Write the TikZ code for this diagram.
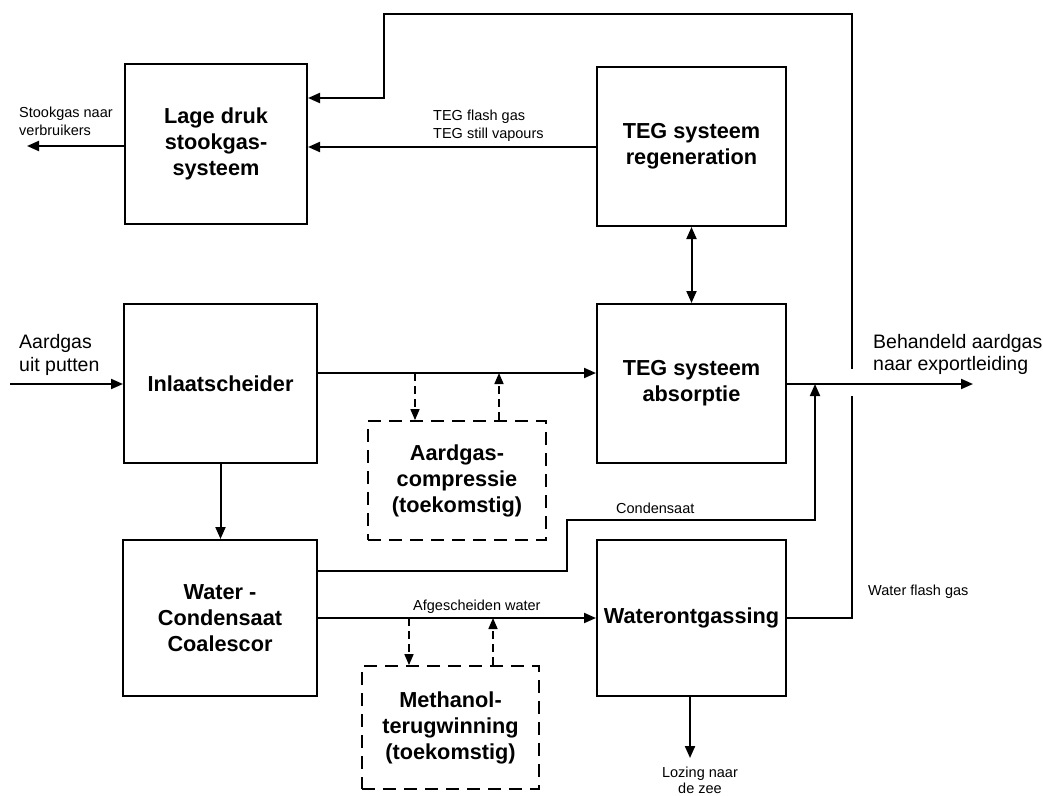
\documentclass[tikz,border=0pt]{standalone}
\usepackage{fontspec}
\setmainfont{Liberation Sans}
\usetikzlibrary{arrows.meta}
\begin{document}
\begin{tikzpicture}[x=1pt,y=-1pt,
  unit/.style={draw,line width=2pt,inner sep=0pt,align=center,
    font=\fontsize{21.7}{26}\selectfont\bfseries},
  future/.style={unit,line width=1.8pt,dash pattern=on 13pt off 8pt},
  arr/.style={line width=2pt,-{Triangle[length=12pt,width=10pt]}},
  dblarr/.style={line width=2pt,{Triangle[length=12pt,width=10pt]}-{Triangle[length=12pt,width=10pt]}},
  darr/.style={line width=1.6pt,dash pattern=on 8pt off 5pt,-{Triangle[length=11pt,width=9pt]}},
  thinpipe/.style={line width=1.1pt},
  small/.style={inner sep=0pt,align=left,font=\fontsize{14.5}{18}\selectfont},
  big/.style={inner sep=0pt,align=left,font=\fontsize{19.5}{22.5}\selectfont}]
\useasboundingbox (0,0) rectangle (1043,795);
\fill[white] (0,0) rectangle (1043,795);

% units
\node[unit,minimum width=182pt,minimum height=160pt] (lage) at (216,144) {Lage druk\\stookgas-\\systeem};
\node[unit,minimum width=189pt,minimum height=159pt] (regen) at (691.5,146.5) {TEG systeem\\regeneration};
\node[unit,minimum width=193pt,minimum height=159pt] (inlaat) at (220.5,383.5) {Inlaatscheider};
\node[unit,minimum width=189pt,minimum height=159pt] (absorp) at (691.5,383.5) {TEG systeem\\absorptie};
\node[future,minimum width=178pt,minimum height=119pt] (comp) at (457,480.5) {Aardgas-\\compressie\\(toekomstig)};
\node[unit,minimum width=194pt,minimum height=156pt] (water) at (220,618) {Water -\\Condensaat\\Coalescor};
\node[unit,minimum width=189pt,minimum height=156pt] (ontg) at (691.5,618) {Waterontgassing};
\node[future,minimum width=177pt,minimum height=123pt] (meth) at (450.5,727.5) {Methanol-\\terugwinning\\(toekomstig)};

% free ends
\coordinate (in) at (10,384);
\coordinate (export) at (973,384);
\coordinate (stook) at (27,146);
\coordinate (lozing) at (690,758);
\coordinate (gapbot) at (852,396);
\coordinate (gaptop) at (852,369);

% labels
\node[small,anchor=west] (lstook) at (19,121) {Stookgas naar\\verbruikers};
\node[small,anchor=west] (lteg) at (433,126) {TEG flash gas\\TEG still vapours};
\node[big,anchor=west] (lin) at (19,355) {Aardgas\\uit putten};
\node[big,anchor=west] (lexp) at (873,354.5) {Behandeld aardgas\\naar exportleiding};
\node[small,anchor=west] (lcond) at (616,508) {Condensaat};
\node[small,anchor=west] (lafg) at (413,607) {Afgescheiden water};
\node[small,anchor=west] (lwfg) at (868,592) {Water flash gas};
\node[inner sep=0pt,align=center,font=\fontsize{14.5}{16}\selectfont] (lloz) at (700,780) {Lozing naar\\de zee};

% connectors
\draw[arr] (in) -- (inlaat.west |- in);
\draw[arr] (inlaat.east |- 0,373) -- (absorp.west |- 0,373);
\draw[darr] (415,373) -- (comp.north -| 415,0);
\draw[darr] (comp.north -| 499,0) -- (499,373);
\draw[arr] (absorp.east |- export) -- (export);
\draw[dblarr] (regen.south) -- (absorp.north);
\draw[arr] (inlaat.south) -- (water.north -| inlaat.south);
\draw[arr] (water.east |- 0,571) -- (567,571) -- (567,520) -- (815,520) -- (815,384);
\draw[arr] (water.east) -- (ontg.west);
\draw[darr] (409,618) -- (meth.north -| 409,0);
\draw[darr] (meth.north -| 493,0) -- (493,618);
\draw[arr] (ontg.south -| lozing) -- (lozing);
\draw[thinpipe] (ontg.east) -- (852,618) -- (gapbot);
\draw[arr] (gaptop) -- (852,14) -- (384,14) -- (384,98) -- (lage.east |- 0,98);
\draw[arr] (regen.west |- 0,147) -- (lage.east |- 0,147);
\draw[arr] (lage.west |- stook) -- (stook);
\end{tikzpicture}
\end{document}
